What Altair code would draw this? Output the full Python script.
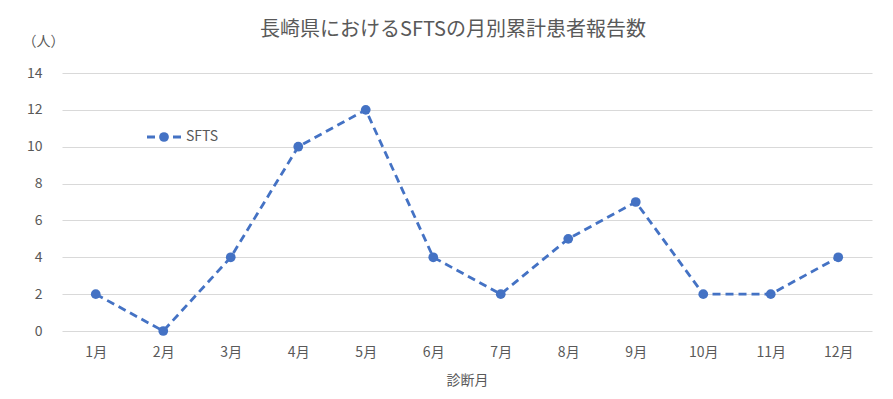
import altair as alt
import pandas as pd

months = ["1月", "2月", "3月", "4月", "5月", "6月", "7月", "8月", "9月", "10月", "11月", "12月"]
cases = [2, 0, 4, 10, 12, 4, 2, 5, 7, 2, 2, 4]
series_name = "SFTS"

df = pd.DataFrame({"month": months, "cases": cases})

FONT = "Noto Sans CJK JP"
GREY = "#595959"
BLUE = "#4472C4"

x = alt.X("month:N", sort=months, scale=alt.Scale(paddingInner=0, paddingOuter=0.5),
          axis=alt.Axis(title="診断月", labelAngle=0, domain=False, ticks=False,
                        labelPadding=14, labelFontSize=14, labelColor=GREY, titleFontSize=14,
                        titleColor=GREY, titleFontWeight="normal", titlePadding=14, labelFont=FONT,
                        titleFont=FONT, grid=False))
y = alt.Y("cases:Q", scale=alt.Scale(domain=[0, 14], nice=False),
          axis=alt.Axis(values=[0, 2, 4, 6, 8, 10, 12, 14], title="（人）", titleAngle=0,
                        titleX=-19, titleY=-32, titleAlign="center", titleBaseline="middle",
                        domain=False, ticks=False, labelPadding=20, labelFontSize=14,
                        labelColor=GREY, titleFontSize=14, titleColor=GREY,
                        titleFontWeight="normal", gridColor="#D9D9D9", labelFont=FONT,
                        titleFont=FONT))

line = alt.Chart(df).mark_line(color=BLUE, strokeWidth=2.8, strokeDash=[8, 5]).encode(x=x, y=y)
pts = alt.Chart(df).mark_point(filled=True, color=BLUE, size=95, opacity=1).encode(x=x, y=y)

leg = pd.DataFrame({"name": [series_name]})
leg_line = alt.Chart(leg).mark_rule(color=BLUE, strokeWidth=2.8, strokeDash=[8, 5]).encode(
    x=alt.value(85), x2=alt.value(119), y=alt.value(64))
leg_pt = alt.Chart(leg).mark_point(filled=True, color=BLUE, size=95, opacity=1).encode(
    x=alt.value(102), y=alt.value(64))
leg_txt = alt.Chart(leg).mark_text(align="left", baseline="middle", fontSize=14, color=GREY,
                                   font=FONT).encode(x=alt.value(124), y=alt.value(64), text="name:N")

chart = alt.layer(line, pts, leg_line, leg_pt, leg_txt).properties(
    width=810, height=258,
    title=alt.TitleParams("長崎県におけるSFTSの月別累計患者報告数", fontSize=20, color=GREY,
                          fontWeight="normal", font=FONT, anchor="middle", dx=-14, offset=-6),
    autosize=alt.AutoSizeParams(type="none"),
    padding={"left": 54, "top": 65, "right": 13, "bottom": 60},
).configure_view(stroke=None)

chart.save("out.html", embed_options={"renderer": "svg", "actions": False})
